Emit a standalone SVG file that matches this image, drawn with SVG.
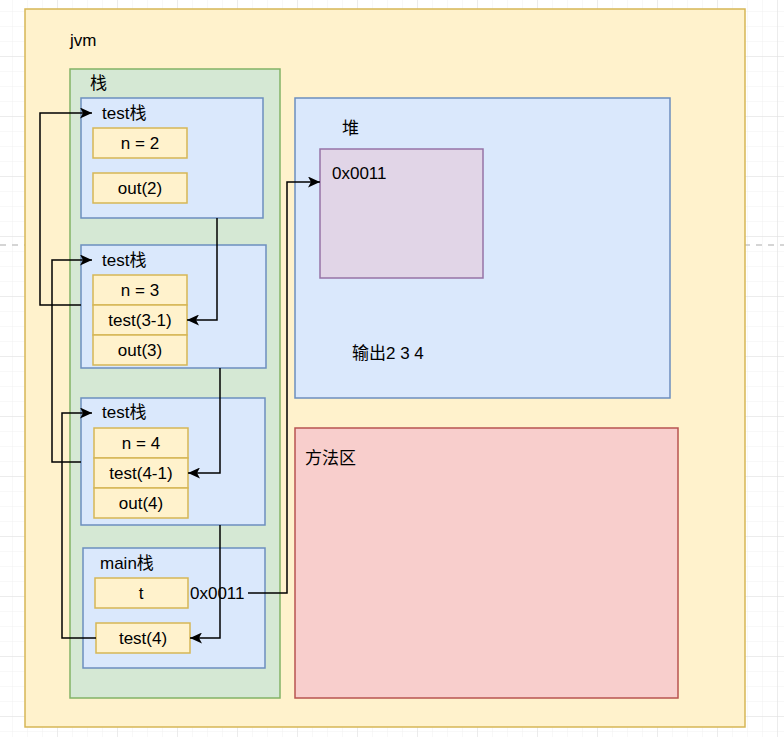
<svg xmlns="http://www.w3.org/2000/svg" width="784" height="737" viewBox="0 0 784 737">
<defs>
<pattern id="minor" width="15" height="15" patternUnits="userSpaceOnUse" x="-2" y="-3">
<path d="M15 0V15M0 15H15" fill="none" stroke="#f0f0f0" stroke-width="1"/>
</pattern>
<pattern id="major" width="60" height="60" patternUnits="userSpaceOnUse" x="-2" y="-3">
<path d="M60 0V60M0 60H60" fill="none" stroke="#e0e0e0" stroke-width="1"/>
</pattern>
<marker id="arr" markerWidth="13" markerHeight="11" refX="12" refY="5.5" orient="auto" markerUnits="userSpaceOnUse">
<path d="M0,0 L12,5.5 L0,11 L3,5.5 Z" fill="#000"/>
</marker>
</defs>
<style>
text{font-family:"Liberation Sans","Noto Sans CJK SC",sans-serif;font-size:17px;fill:#000}
.c{text-anchor:middle}
.jvm{fill:#fff2cc;stroke:#d6b656;stroke-width:1.5}
.stk{fill:#d5e8d4;stroke:#82b366;stroke-width:1.5}
.frm{fill:#dae8fc;stroke:#6c8ebf;stroke-width:1.5}
.var{fill:#fff2cc;stroke:#d6b656;stroke-width:1.5}
.obj{fill:#e1d5e7;stroke:#9673a6;stroke-width:1.5}
.mth{fill:#f8cecc;stroke:#b85450;stroke-width:1.5}
.ln{fill:none;stroke:#000;stroke-width:1.5}
</style>
<rect width="784" height="737" fill="#fff"/>
<rect width="784" height="737" fill="url(#minor)"/>
<rect width="784" height="737" fill="url(#major)"/>
<line x1="0" y1="245" x2="784" y2="245" stroke="#c8c8c8" stroke-width="1.5" stroke-dasharray="6,6"/>

<g id="jvm"><rect class="jvm" x="25" y="9" width="720" height="718"/><text x="70" y="46">jvm</text></g>
<g id="stack"><rect class="stk" x="70" y="69" width="210" height="629"/><text x="90" y="89">栈</text></g>

<g id="frame1"><rect class="frm" x="81" y="98" width="182" height="120"/><text x="102" y="119">test栈</text></g>
<g id="n2"><rect class="var" x="93" y="128" width="94" height="30"/><text class="c" x="140" y="149">n = 2</text></g>
<g id="out2"><rect class="var" x="93" y="173" width="94" height="30"/><text class="c" x="140" y="194">out(2)</text></g>

<g id="frame2"><rect class="frm" x="81" y="245" width="185" height="123"/><text x="102" y="266">test栈</text></g>
<g id="n3"><rect class="var" x="93" y="275" width="94" height="30"/><text class="c" x="140" y="296">n = 3</text></g>
<g id="test31"><rect class="var" x="93" y="305" width="94" height="30"/><text class="c" x="140" y="326">test(3-1)</text></g>
<g id="out3"><rect class="var" x="93" y="335" width="94" height="30"/><text class="c" x="140" y="356">out(3)</text></g>

<g id="frame3"><rect class="frm" x="81" y="398" width="184" height="127"/><text x="102" y="418">test栈</text></g>
<g id="n4"><rect class="var" x="94" y="428" width="94" height="30"/><text class="c" x="141" y="449">n = 4</text></g>
<g id="test41"><rect class="var" x="94" y="458" width="94" height="30"/><text class="c" x="141" y="479">test(4-1)</text></g>
<g id="out4"><rect class="var" x="94" y="488" width="94" height="30"/><text class="c" x="141" y="509">out(4)</text></g>

<g id="mainframe"><rect class="frm" x="83" y="548" width="182" height="120"/><text x="100" y="569">main栈</text></g>
<g id="t"><rect class="var" x="95" y="578" width="93" height="30"/><text class="c" x="141" y="599">t</text></g>
<g id="test4"><rect class="var" x="96" y="623" width="94" height="30"/><text class="c" x="143" y="644">test(4)</text></g>
<g id="tref"><text x="190" y="599">0x0011</text></g>

<g id="heap"><rect class="frm" x="295" y="98" width="375" height="300"/><text x="342" y="134">堆</text><text x="352" y="359">输出2 3 4</text></g>
<g id="obj"><rect class="obj" x="320" y="149" width="163" height="129"/><text x="332" y="179">0x0011</text></g>
<g id="method"><rect class="mth" x="295" y="428" width="383" height="270"/><text x="305" y="464">方法区</text></g>

<g id="connectors">
<path class="ln" d="M81 305H40V113H92" marker-end="url(#arr)"/>
<path class="ln" d="M81 462H52V260H92" marker-end="url(#arr)"/>
<path class="ln" d="M96 638H62V413H92" marker-end="url(#arr)"/>
<path class="ln" d="M217 218V320H187" marker-end="url(#arr)"/>
<path class="ln" d="M220 368V473H188" marker-end="url(#arr)"/>
<path class="ln" d="M220 525V638H190" marker-end="url(#arr)"/>
<path class="ln" d="M248 593H287V182H320" marker-end="url(#arr)"/>
</g>
</svg>
